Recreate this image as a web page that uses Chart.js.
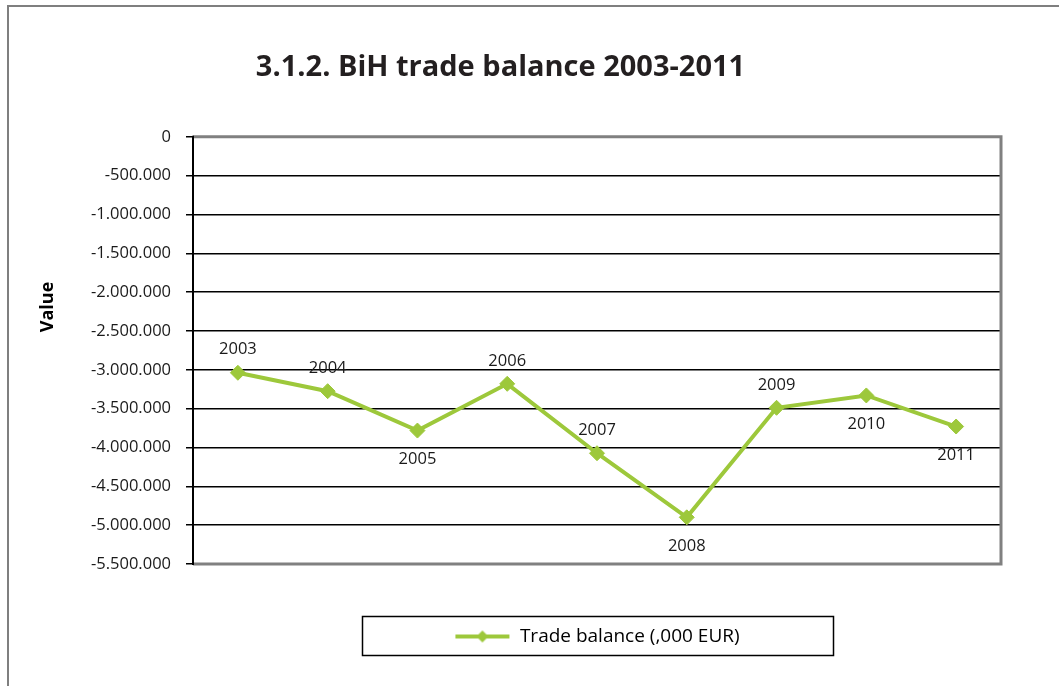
<!DOCTYPE html>
<html>
<head>
<meta charset="utf-8">
<script src="https://cdn.jsdelivr.net/npm/chart.js@4.4.0/dist/chart.umd.min.js"></script>
<style>
  html, body { margin: 0; padding: 0; background: #fff; }
  #wrap { position: relative; width: 1059px; height: 686px; }
  #frame { position: absolute; left: 7px; top: 5px; right: -2px; bottom: -2px; border-left: 2px solid #7f7f7f; border-top: 2px solid #7f7f7f; pointer-events: none; }
  canvas { display: block; }
</style>
</head>
<body>
<div id="wrap">
  <canvas id="c" width="1059" height="686"></canvas>
  <div id="frame"></div>
</div>
<script>
const years = ['2003','2004','2005','2006','2007','2008','2009','2010','2011'];
const tradeBalance = [-3038000, -3275000, -3782000, -3180000, -4074000, -4899000, -3489000, -3330000, -3730000];
const labelSide = ['top','top','bottom','top','top','bottom','top','bottom','bottom'];
const seriesName = 'Trade balance (,000 EUR)';
const chartTitle = '3.1.2. BiH trade balance 2003-2011';
const yTitle = 'Value';
const yMin = -5500000, yMax = 0, yStep = 500000;

const GREEN = '#9dc83b';
const FONT = "'Open Sans', 'Noto Sans', sans-serif";

function fmt(v) {
  const neg = v < 0;
  const s = Math.abs(Math.round(v)).toString().replace(/\B(?=(\d{3})+(?!\d))/g, '.');
  return (neg ? '-' : '') + s;
}

// legend icon: line with diamond
const icon = document.createElement('canvas');
icon.width = 56; icon.height = 16;
(function(){
  const g = icon.getContext('2d');
  g.strokeStyle = GREEN; g.lineWidth = 4;
  g.beginPath(); g.moveTo(1, 8); g.lineTo(55, 8); g.stroke();
  g.fillStyle = GREEN;
  g.beginPath(); g.moveTo(28, 2); g.lineTo(34, 8); g.lineTo(28, 14); g.lineTo(22, 8); g.closePath(); g.fill();
})();

const framePlugin = {
  id: 'framePlugin',
  afterLayout(chart) {
    const lg = chart.legend, a = chart.chartArea;
    if (lg) { lg.left = a.left; lg.right = a.right; lg.width = a.right - a.left; }
  },
  afterDatasetsDraw(chart) {
    const { ctx, chartArea: a } = chart;
    ctx.save();
    ctx.strokeStyle = '#808080';
    ctx.lineWidth = 3;
    ctx.beginPath();
    ctx.moveTo(a.left, a.top); ctx.lineTo(a.right, a.top); ctx.lineTo(a.right, a.bottom); ctx.lineTo(a.left, a.bottom);
    ctx.stroke();
    ctx.strokeStyle = '#000';
    ctx.lineWidth = 2;
    ctx.beginPath(); ctx.moveTo(a.left, a.top - 1); ctx.lineTo(a.left, a.bottom + 1); ctx.stroke();
    ctx.restore();
  },
  afterDraw(chart) {
    const { ctx } = chart;
    // y axis title
    ctx.save();
    ctx.translate(48, 307);
    ctx.rotate(-Math.PI / 2);
    ctx.font = 'bold 18px ' + FONT;
    ctx.fillStyle = '#000';
    ctx.textAlign = 'center';
    ctx.textBaseline = 'middle';
    ctx.fillText(yTitle, 0, 0);
    ctx.restore();
    const lg = chart.legend;
    if (!lg) return;
    const cx = (lg.left + lg.right) / 2;
    const cy = (lg.top + lg.bottom) / 2;
    ctx.save();
    ctx.strokeStyle = '#000';
    ctx.lineWidth = 1.5;
    ctx.strokeRect(Math.round(cx - 235.5) + 0.5, Math.round(cy - 19.5) - 0.5, 471, 39);
    ctx.restore();
  }
};

const labelPlugin = {
  id: 'labelPlugin',
  afterDatasetsDraw(chart) {
    const { ctx } = chart;
    const meta = chart.getDatasetMeta(0);
    ctx.save();
    ctx.font = '16.5px ' + FONT;
    ctx.fillStyle = '#1a1a1a';
    ctx.textAlign = 'center';
    ctx.textBaseline = 'middle';
    meta.data.forEach((pt, i) => {
      const dy = labelSide[i] === 'top' ? -23 : 29;
      ctx.fillText(chart.data.labels[i], pt.x, pt.y + dy);
    });
    ctx.restore();
  }
};

new Chart(document.getElementById('c'), {
  type: 'line',
  data: {
    labels: years,
    datasets: [{
      label: seriesName,
      data: tradeBalance,
      borderColor: GREEN,
      backgroundColor: GREEN,
      borderWidth: 4,
      pointStyle: 'rectRot',
      pointRadius: 7.5,
      pointBorderWidth: 1,
      pointBackgroundColor: GREEN,
      pointBorderColor: GREEN,
      tension: 0,
      fill: false
    }]
  },
  options: {
    responsive: false,
    animation: false,
    devicePixelRatio: 1,
    layout: { padding: { left: 0, right: 58, top: 0, bottom: 30 } },
    plugins: {
      title: {
        display: true,
        text: chartTitle,
        color: '#231f20',
        font: { family: FONT, size: 29, weight: 'bold' },
        padding: { top: 50, bottom: 52 }
      },
      legend: {
        display: true,
        position: 'bottom',
        labels: {
          usePointStyle: true,
          pointStyle: icon,
          pointStyleWidth: 56,
          color: '#1a1a1a',
          font: { family: FONT, size: 19 },
          padding: 10,
          generateLabels(chart) {
            return [{ text: seriesName, pointStyle: icon, fillStyle: GREEN, strokeStyle: GREEN, lineWidth: 0, datasetIndex: 0 }];
          }
        }
      },
      tooltip: { enabled: false }
    },
    scales: {
      x: {
        type: 'category',
        offset: true,
        display: true,
        afterFit(scale) { scale.height = 53; },
        ticks: { display: false },
        grid: { display: false },
        border: { display: false }
      },
      y: {
        min: yMin,
        max: yMax,
        afterFit(scale) { scale.width = 193; },
        ticks: {
          stepSize: yStep,
          color: '#1a1a1a',
          font: { family: FONT, size: 16.5 },
          padding: 15,
          callback: (v) => fmt(v)
        },
        grid: {
          color: '#000',
          lineWidth: 1.5,
          tickColor: '#000',
          tickLength: 7,
          drawOnChartArea: true
        },
        border: { display: false },
        title: { display: false }
      }
    }
  },
  plugins: [framePlugin, labelPlugin]
});
</script>
</body>
</html>
